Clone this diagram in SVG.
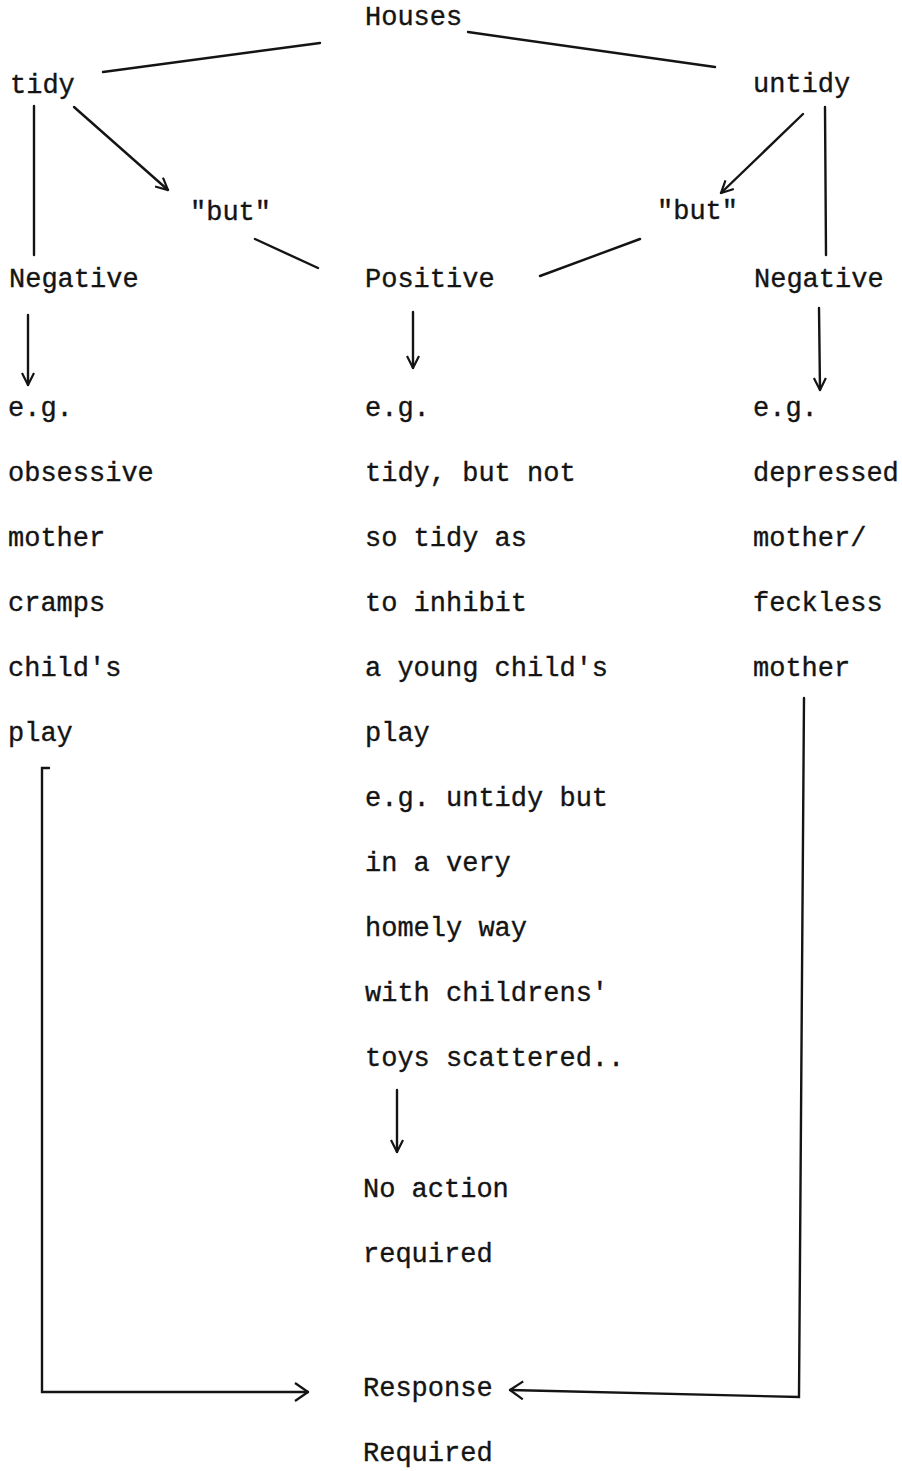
<svg xmlns="http://www.w3.org/2000/svg" width="902" height="1471" viewBox="0 0 902 1471">
  <style>
    .t { font-family: "Liberation Mono", "Courier New", monospace; font-size: 27px; letter-spacing: 0px; fill: #141414; stroke: #141414; stroke-width: 0.35px; }
    .c { stroke: #141414; stroke-width: 2.4; fill: none; stroke-linecap: round; }
  </style>
  <defs>
    <marker id="arr" viewBox="0 0 14 14" refX="13" refY="7" markerWidth="14" markerHeight="14" markerUnits="userSpaceOnUse" orient="auto">
      <path d="M1,1 L13,7 L1,13" fill="none" stroke="#141414" stroke-width="2.2" stroke-linejoin="miter"/>
    </marker>
    <marker id="arrL" viewBox="0 0 16 20" refX="15" refY="10" markerWidth="16" markerHeight="20" markerUnits="userSpaceOnUse" orient="auto">
      <path d="M2,1 L15,10 L2,19" fill="none" stroke="#141414" stroke-width="2.2"/>
    </marker>
  </defs>
  <rect width="902" height="1471" fill="#ffffff"/>

  <g id="connectors">
    <line class="c" x1="103" y1="72" x2="320" y2="43"/>
    <line class="c" x1="468" y1="32" x2="715" y2="67"/>
    <line class="c" x1="34" y1="106" x2="34" y2="255"/>
    <line class="c" x1="74" y1="107" x2="168" y2="190" marker-end="url(#arr)"/>
    <line class="c" x1="255" y1="239" x2="318" y2="268"/>
    <line class="c" x1="803" y1="114" x2="721" y2="193" marker-end="url(#arr)"/>
    <line class="c" x1="825" y1="107" x2="826" y2="255"/>
    <line class="c" x1="640" y1="239" x2="540" y2="276"/>
    <line class="c" x1="28" y1="315" x2="28" y2="385" marker-end="url(#arr)"/>
    <line class="c" x1="413" y1="312" x2="413" y2="368" marker-end="url(#arr)"/>
    <line class="c" x1="819" y1="308" x2="820" y2="390" marker-end="url(#arr)"/>
    <line class="c" x1="397" y1="1090" x2="397" y2="1152" marker-end="url(#arr)"/>
    <polyline class="c" points="49,768 42,768 42,1392 308,1392" marker-end="url(#arrL)"/>
    <polyline class="c" points="804,698 799,1397 510,1390" marker-end="url(#arrL)"/>
  </g>

  <g id="houses"><text class="t" x="365" y="25">Houses</text></g>
  <g id="tidy"><text class="t" x="10" y="93">tidy</text></g>
  <g id="untidy"><text class="t" x="753" y="92">untidy</text></g>
  <g id="but-left"><text class="t" x="190" y="220">"but"</text></g>
  <g id="but-right"><text class="t" x="657" y="219">"but"</text></g>
  <g id="negative-left"><text class="t" x="9" y="287">Negative</text></g>
  <g id="positive"><text class="t" x="365" y="287">Positive</text></g>
  <g id="negative-right"><text class="t" x="754" y="287">Negative</text></g>

  <g id="example-left">
    <text class="t" x="8" y="416">e.g.</text>
    <text class="t" x="8" y="481">obsessive</text>
    <text class="t" x="8" y="546">mother</text>
    <text class="t" x="8" y="611">cramps</text>
    <text class="t" x="8" y="676">child's</text>
    <text class="t" x="8" y="741">play</text>
  </g>
  <g id="example-middle">
    <text class="t" x="365" y="416">e.g.</text>
    <text class="t" x="365" y="481">tidy, but not</text>
    <text class="t" x="365" y="546">so tidy as</text>
    <text class="t" x="365" y="611">to inhibit</text>
    <text class="t" x="365" y="676">a young child's</text>
    <text class="t" x="365" y="741">play</text>
    <text class="t" x="365" y="806">e.g. untidy but</text>
    <text class="t" x="365" y="871">in a very</text>
    <text class="t" x="365" y="936">homely way</text>
    <text class="t" x="365" y="1001">with childrens'</text>
    <text class="t" x="365" y="1066">toys scattered..</text>
  </g>
  <g id="example-right">
    <text class="t" x="753" y="416">e.g.</text>
    <text class="t" x="753" y="481">depressed</text>
    <text class="t" x="753" y="546">mother/</text>
    <text class="t" x="753" y="611">feckless</text>
    <text class="t" x="753" y="676">mother</text>
  </g>
  <g id="no-action">
    <text class="t" x="363" y="1197">No action</text>
    <text class="t" x="363" y="1262">required</text>
  </g>
  <g id="response">
    <text class="t" x="363" y="1396">Response</text>
    <text class="t" x="363" y="1461">Required</text>
  </g>
</svg>
